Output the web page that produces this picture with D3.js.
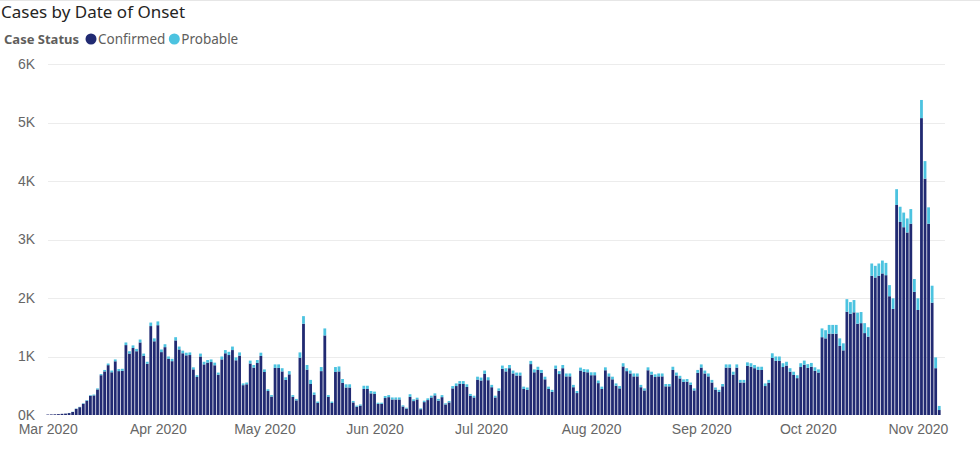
<!DOCTYPE html>
<html>
<head>
<meta charset="utf-8">
<script src="https://cdn.jsdelivr.net/npm/d3@7"></script>
<style>
  body { margin: 0; background: #fff; font-family: "Noto Sans", "Open Sans", sans-serif; }
</style>
</head>
<body>
<svg id="chart"></svg>
<script>
// daily totals from Mar 1 2020 (day 0) to Nov 7 2020
const totals = [
  8,10,12,15,20,25,35,55,110,140,
  200,255,340,350,455,700,770,880,760,950,
  785,790,1240,1090,1190,1130,1290,1050,910,1580,
  1310,1600,1120,1210,1000,960,1330,1170,1100,1065,
  1070,815,680,1050,910,940,950,895,725,1000,
  1110,1080,1170,985,1070,540,555,930,855,940,
  1065,780,440,340,865,865,800,645,750,340,
  275,1070,1690,855,600,385,230,820,1480,340,
  230,820,830,615,525,525,240,160,180,500,
  500,410,400,210,210,325,340,300,300,300,
  165,125,355,268,296,114,245,285,330,370,
  275,340,200,240,495,540,580,580,525,360,
  330,655,640,760,645,515,330,455,845,800,
  855,760,725,725,485,470,925,780,825,770,
  655,485,430,845,750,855,710,710,515,410,
  810,785,780,730,730,590,485,815,710,655,
  540,495,885,800,760,710,710,515,455,815,
  740,695,710,710,530,530,825,725,670,610,
  615,555,455,770,865,760,710,600,470,430,
  530,865,865,740,865,600,600,900,885,855,
  825,825,540,600,1055,1000,1000,885,910,800,
  740,680,885,930,870,890,815,780,1480,1450,
  1540,1540,1540,1310,1225,1980,1930,1965,1750,1760,
  1570,1500,2590,2550,2590,2640,2600,2220,1995,3860,
  3560,3460,3360,3520,2325,1995,5385,4340,3550,2210,
  985,155
];
const probable = [
  0,0,0,0,0,1,2,3,5,6,
  8,10,12,15,18,20,25,28,30,32,
  35,35,45,40,45,40,50,40,35,60,
  50,65,45,50,40,40,55,50,45,45,
  45,35,30,50,45,45,45,45,35,50,
  55,55,60,50,55,30,30,50,45,50,
  55,45,30,25,60,60,55,45,55,30,
  25,90,130,80,70,40,25,70,120,30,
  25,85,85,65,55,55,25,20,20,55,
  55,40,40,20,20,35,35,35,35,35,
  20,15,45,30,30,15,25,30,30,35,
  30,35,20,25,40,45,45,50,45,35,
  30,50,50,55,50,40,30,40,55,55,
  55,50,50,50,40,40,55,50,55,50,
  45,40,35,55,50,55,50,50,40,35,
  50,50,50,50,50,45,40,50,50,45,
  40,40,55,50,50,50,50,40,35,50,
  50,45,50,50,40,40,55,50,45,45,
  45,40,35,50,55,50,50,45,35,35,
  40,55,55,50,55,45,45,60,60,55,
  55,55,45,50,80,75,75,65,65,60,
  55,50,65,70,65,65,60,55,150,140,
  150,150,150,130,120,215,200,210,190,190,
  170,160,210,200,210,220,210,190,180,270,
  260,250,240,250,220,200,310,300,280,290,
  185,70
];
const yTicks = [0, 1000, 2000, 3000, 4000, 5000, 6000];
const monthTicks = ["2020-03-01","2020-04-01","2020-05-01","2020-06-01","2020-07-01",
                    "2020-08-01","2020-09-01","2020-10-01","2020-11-01"];
const series = [
  { name: "Confirmed", color: "#212a72" },
  { name: "Probable", color: "#4cc3e0" }
];

const width = 980, height = 449;
const start = new Date(2020, 2, 1);
const day = 864e5;
const data = totals.map((t, i) => ({
  date: new Date(start.getTime() + i * day),
  confirmed: t - probable[i],
  probable: probable[i]
}));

const svg = d3.select("#chart").attr("width", width).attr("height", height);

const x = d3.scaleTime()
  .domain([new Date(start.getTime() - 0.5 * day), new Date(start.getTime() + (totals.length - 0.5) * day)])
  .range([46, 941]);
const y = d3.scaleLinear().domain([0, 6000]).range([415, 64]);

// title and legend
svg.append("line").attr("x1", 0).attr("x2", width).attr("y1", 0.5).attr("y2", 0.5)
  .attr("stroke", "#e6e6e6");
svg.append("text").attr("x", 1).attr("y", 18).attr("font-size", 17).attr("fill", "#252423")
  .text("Cases by Date of Onset");
const lt = svg.append("text").attr("x", 4).attr("y", 44).attr("font-size", 13).attr("font-weight", "bold")
  .attr("fill", "#605e5c").text("Case Status");
let lx = 4 + lt.node().getComputedTextLength() + 12;
series.forEach(s => {
  svg.append("circle").attr("cx", lx).attr("cy", 39).attr("r", 5.5).attr("fill", s.color);
  const t = svg.append("text").attr("x", lx + 7).attr("y", 44).attr("font-size", 13.5)
    .attr("fill", "#605e5c").text(s.name);
  lx += 7 + t.node().getComputedTextLength() + 9;
});

// grid + y axis
svg.append("g").selectAll("line").data(yTicks.slice(1)).join("line")
  .attr("x1", 48).attr("x2", 945)
  .attr("y1", d => Math.round(y(d)) + 0.5).attr("y2", d => Math.round(y(d)) + 0.5)
  .attr("stroke", "#ececec");
const yAxis = svg.append("g").attr("transform", "translate(38,0)")
  .call(d3.axisLeft(y).tickValues(yTicks).tickFormat(d => d === 0 ? "0K" : d / 1000 + "K").tickSize(0));
yAxis.select(".domain").remove();
yAxis.selectAll("text").attr("font-size", 14).attr("fill", "#666");

// bars
const bw = 2.8;
const g = svg.append("g");
g.selectAll(".conf").data(data).join("rect")
  .attr("x", d => x(d.date) - bw / 2).attr("width", bw)
  .attr("y", d => y(d.confirmed)).attr("height", d => y(0) - y(d.confirmed))
  .attr("fill", series[0].color);
g.selectAll(".prob").data(data).join("rect")
  .attr("x", d => x(d.date) - bw / 2).attr("width", bw)
  .attr("y", d => y(d.confirmed + d.probable)).attr("height", d => y(d.confirmed) - y(d.confirmed + d.probable))
  .attr("fill", series[1].color);

// x axis
const xAxis = svg.append("g").attr("transform", "translate(0,420)")
  .call(d3.axisBottom(x).tickValues(monthTicks.map(d3.timeParse("%Y-%m-%d")))
    .tickFormat(d3.timeFormat("%b %Y")).tickSize(0));
xAxis.select(".domain").remove();
xAxis.selectAll("text").attr("font-size", 14).attr("fill", "#666").attr("dy", "0.8em");
</script>
</body>
</html>
